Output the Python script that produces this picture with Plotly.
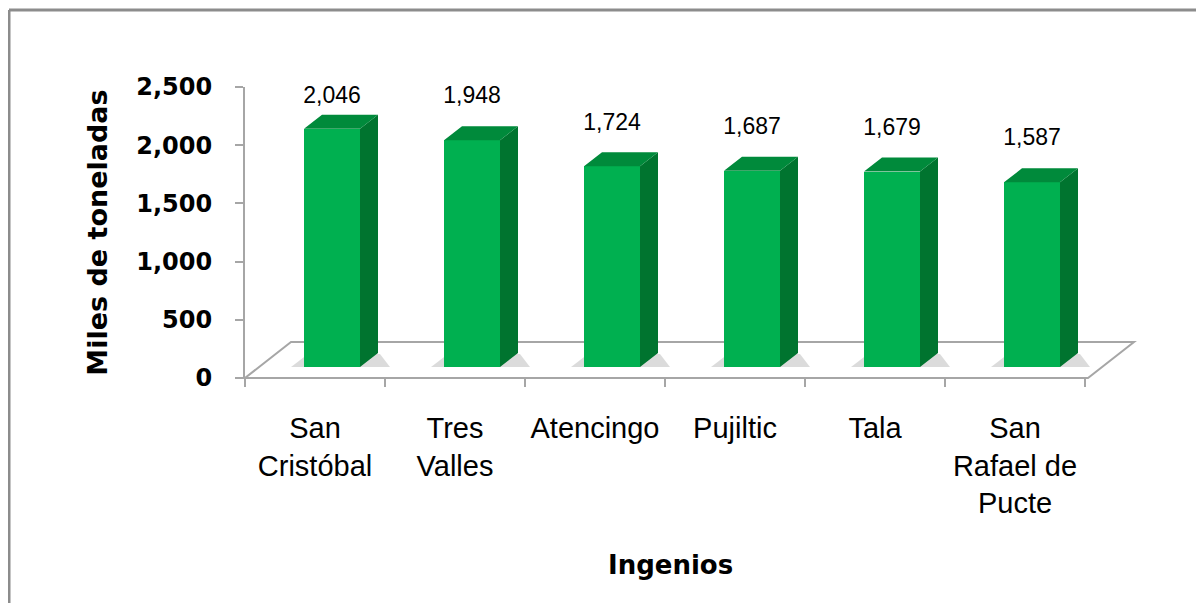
import plotly.graph_objects as go

# Datos: producción de caña por ingenio (miles de toneladas)
ingenios = ["San<br>Cristóbal", "Tres<br>Valles", "Atencingo", "Pujiltic", "Tala",
            "San<br>Rafael de<br>Pucte"]
produccion = [2046, 1948, 1724, 1687, 1679, 1587]
y_ticks = [0, 500, 1000, 1500, 2000, 2500]

# Geometría del área de trazado (pixeles de la página)
W, H = 1204, 611
PAGE = 8  # margen del <body>
L, R, T, B = 245, 1140, 87, 378
CAT_PX = 140
X0, X1 = -0.5, -0.5 + (R - L) / CAT_PX
Y0, Y1 = 0, 2500
PPY = (B - T) / (Y1 - Y0)

GRAY = "#A6A6A6"
VERDE = "#00B050"
VERDE_LADO = "#00742F"
VERDE_TOPE = "#008A3B"


def dx(px):
    return px / CAT_PX


def dy(px):
    return px / PPY


def paper_x(px):
    return (px - L) / (R - L)


def paper_y(py):
    return (B - py) / (B - T)


def xp(x):
    return (x - X0) / (X1 - X0)


def yp(y):
    return (y - Y0) / (Y1 - Y0)


BAR_OFF = dx(17)
BAR_W = dx(56)
BASE = dy(11)
SIDE_X = dx(18)
SIDE_Y = dy(14)
FLOOR_X = dx(46)
FLOOR_Y = dy(36)
FLOOR_END = len(produccion) - 0.5 + dx(3)

idx = list(range(len(produccion)))

side_x, side_y, top_x, top_y = [], [], [], []
sombras = []
for i, v in zip(idx, produccion):
    xl = i + BAR_OFF - BAR_W / 2
    xr = xl + BAR_W
    tp = BASE + v
    side_x += [xr, xr + SIDE_X, xr + SIDE_X, xr, xr, None]
    side_y += [BASE, BASE + SIDE_Y, tp + SIDE_Y, tp, BASE, None]
    top_x += [xl, xr, xr + SIDE_X, xl + SIDE_X, xl, None]
    top_y += [tp, tp, tp + SIDE_Y, tp + SIDE_Y, tp, None]
    pts = [(xl - dx(13), BASE), (xr + SIDE_X + dx(12), BASE),
           (xr + SIDE_X + dx(2), BASE + dy(13)), (xl + dx(4), BASE + dy(13))]
    path = "M " + " L ".join(f"{xp(a)} {yp(b)}" for a, b in pts) + " Z"
    sombras.append(dict(type="path", path=path, xref="paper", yref="paper",
                        line=dict(width=0), fillcolor="rgba(0,0,0,0.14)",
                        layer="below"))

fig = go.Figure()

# cara frontal
fig.add_trace(go.Bar(x=[i + BAR_OFF for i in idx], y=produccion, base=BASE,
                     width=BAR_W, marker=dict(color=VERDE, line=dict(width=0)),
                     showlegend=False))
# cara lateral y superior
fig.add_trace(go.Scatter(x=side_x, y=side_y, fill="toself", mode="lines",
                         line=dict(width=0), fillcolor=VERDE_LADO,
                         hoverinfo="skip", showlegend=False))
fig.add_trace(go.Scatter(x=top_x, y=top_y, fill="toself", mode="lines",
                         line=dict(width=0), fillcolor=VERDE_TOPE,
                         hoverinfo="skip", showlegend=False))
# etiquetas de valor
fig.add_trace(go.Scatter(x=[i + BAR_OFF for i in idx],
                         y=[min(v + 460, 2414) for v in produccion],
                         text=[f"{v:,}" for v in produccion], mode="text",
                         textposition="middle center",
                         textfont=dict(family="Liberation Sans", size=23, color="black"),
                         cliponaxis=False, hoverinfo="skip", showlegend=False))

# piso 3D
floor_path = "M {} {} L {} {} L {} {} L {} {} Z".format(
    xp(X0), yp(0), xp(FLOOR_END), yp(0),
    xp(FLOOR_END + FLOOR_X), yp(FLOOR_Y), xp(X0 + FLOOR_X), yp(FLOOR_Y))
shapes = [
    dict(type="path", path=floor_path, xref="paper", yref="paper",
         line=dict(color=GRAY, width=2), fillcolor="white", layer="below"),
] + sombras + [
    # marco exterior
    dict(type="line", xref="paper", yref="paper", x0=paper_x(9), x1=paper_x(W + 5),
         y0=paper_y(10), y1=paper_y(10), line=dict(color="#8C8C8C", width=3)),
    dict(type="line", xref="paper", yref="paper", x0=paper_x(9), x1=paper_x(9),
         y0=paper_y(10), y1=paper_y(H + 5), line=dict(color="#8C8C8C", width=3)),
]

fig.update_layout(
    width=W - 2 * PAGE, height=H - 2 * PAGE,
    margin=dict(l=L - PAGE, r=W - R - PAGE, t=T - PAGE, b=H - B - PAGE),
    paper_bgcolor="white", plot_bgcolor="rgba(0,0,0,0)",
    bargap=0, showlegend=False,
    shapes=shapes,
    xaxis=dict(range=[X0, X1], tickvals=idx, ticktext=ingenios, ticks="",
               showline=False, showgrid=False, zeroline=False,
               tickfont=dict(family="Liberation Sans", size=29, color="black"),
               ticklabelstandoff=30,
               minor=dict(ticks="outside", tick0=-0.5, dtick=1, ticklen=8,
                          tickwidth=2, tickcolor=GRAY, showgrid=False)),
    yaxis=dict(range=[Y0, Y1], tickvals=y_ticks, tickformat=",", ticks="outside",
               ticklen=8, tickwidth=2, tickcolor=GRAY, showline=True,
               linecolor=GRAY, linewidth=2, showgrid=False, zeroline=False,
               tickfont=dict(family="DejaVu Sans", size=24, color="black", weight="bold"),
               ticklabelstandoff=18,
               title=dict(text="Miles de toneladas", standoff=21,
                          font=dict(family="DejaVu Sans", size=27, color="black",
                                    weight="bold"))),
    annotations=[dict(text="Ingenios", xref="paper", yref="paper",
                      x=paper_x(670), y=paper_y(565), xanchor="center",
                      yanchor="middle", showarrow=False,
                      font=dict(family="DejaVu Sans", size=26, color="black",
                                weight="bold"))],
)

fig.write_html("out.html")
